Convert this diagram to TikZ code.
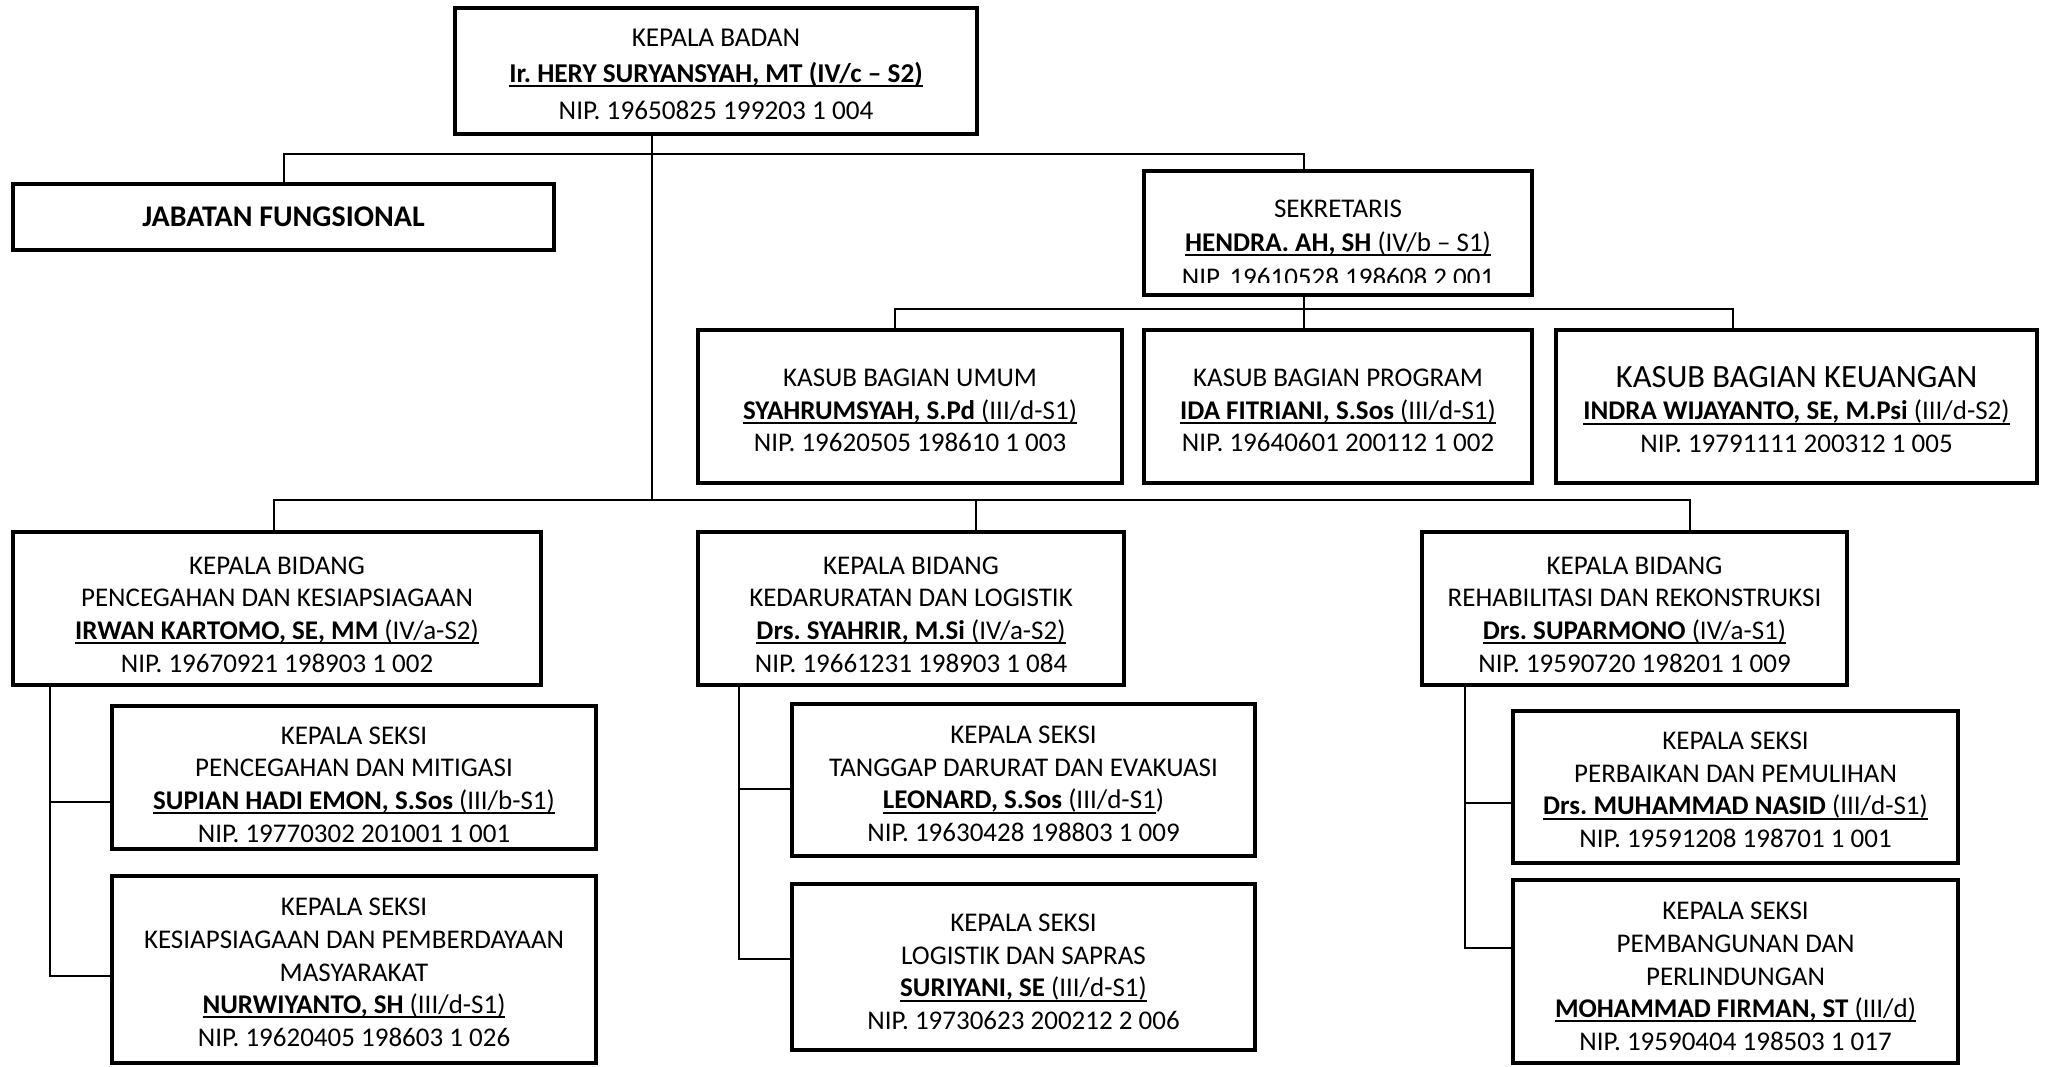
\documentclass[tikz,border=0pt]{standalone}
\usepackage{fontspec}
\setmainfont{Carlito}
\usetikzlibrary{calc}
\frenchspacing
\newcommand\ulx[1]{\begingroup\setbox0\hbox{#1}\rlap{\rule[-0.17em]{\wd0}{0.07em}}\box0\endgroup}
\newcommand\fsN{\fontsize{27pt}{32.6pt}\selectfont}
\newcommand\fsT{\fontsize{27.2pt}{36.5pt}\selectfont}
\newcommand\fsS{\fontsize{27pt}{34.5pt}\selectfont}
\newcommand\fsK{\fontsize{32.5pt}{33pt}\selectfont}
\newcommand\fsJ{\fontsize{30pt}{33pt}\selectfont\bfseries}
\begin{document}
\begin{tikzpicture}[x=1pt,y=-1pt,
  box/.style={draw, line width=4.5pt, inner sep=0pt},
  txt/.style={align=center, inner sep=0pt, font=\fsN},
  conn/.style={line width=2pt}]
\useasboundingbox (0,0) rectangle (2045,1067);
\fill[white] (0,0) rectangle (2045,1067);

% ---- boxes ----
\node[box, minimum width=522pt, minimum height=126pt] (top) at (716,71) {};
\node[txt, font=\fsT] (topt) at ($(top.center)+(0,3)$)
  {KEPALA BADAN\\ \ulx{\bfseries Ir. HERY SURYANSYAH, MT (IV/c – S2)}\\ NIP. 19650825 199203 1 004};

\node[box, minimum width=541pt, minimum height=66pt] (jab) at (283.5,217) {};
\node[txt, font=\fsJ] (jabt) at (jab.center) {JABATAN FUNGSIONAL};

\node[box, minimum width=388pt, minimum height=124pt] (sek) at (1338,233) {};
\begin{scope}
\clip (1150,177) rectangle (1526,282.5);
\node[txt, font=\fsS] (sekt) at (1338,243)
  {SEKRETARIS\\ \ulx{\textbf{HENDRA. AH, SH} (IV/b – S1)}\\ NIP. 19610528 198608 2 001};
\end{scope}

\node[box, minimum width=424pt, minimum height=153pt] (umum) at (910,406.5) {};
\node[txt] (umumt) at ($(umum.center)+(0,4)$)
  {KASUB BAGIAN UMUM\\ \ulx{\textbf{SYAHRUMSYAH, S.Pd} (III/d-S1)}\\ NIP. 19620505 198610 1 003};
\node[box, minimum width=388pt, minimum height=153pt] (prog) at (1338,406.5) {};
\node[txt] (progt) at ($(prog.center)+(0,4)$)
  {KASUB BAGIAN PROGRAM\\ \ulx{\textbf{IDA FITRIANI, S.Sos} (III/d-S1)}\\ NIP. 19640601 200112 1 002};
\node[box, minimum width=481pt, minimum height=153pt] (keu) at (1796.5,406.5) {};
\node[txt] (keut) at ($(keu.center)+(0,3)$)
  {{\fsK KASUB BAGIAN KEUANGAN}\\ \ulx{\textbf{INDRA WIJAYANTO, SE, M.Psi} (III/d-S2)}\\ NIP. 19791111 200312 1 005};

\node[box, minimum width=528pt, minimum height=153pt] (b1) at (277,608.5) {};
\node[txt] (b1t) at ($(b1.center)+(0,6)$)
  {KEPALA BIDANG\\ PENCEGAHAN DAN KESIAPSIAGAAN\\ \ulx{\textbf{IRWAN KARTOMO, SE, MM} (IV/a-S2)}\\ NIP. 19670921 198903 1 002};
\node[box, minimum width=426pt, minimum height=153pt] (b2) at (911,608.5) {};
\node[txt] (b2t) at ($(b2.center)+(0,6)$)
  {KEPALA BIDANG\\ KEDARURATAN DAN LOGISTIK\\ \ulx{\textbf{Drs. SYAHRIR, M.Si} (IV/a-S2)}\\ NIP. 19661231 198903 1 084};
\node[box, minimum width=425pt, minimum height=153pt] (b3) at (1634.5,608.5) {};
\node[txt] (b3t) at ($(b3.center)+(0,6)$)
  {KEPALA BIDANG\\ REHABILITASI DAN REKONSTRUKSI\\ \ulx{\textbf{Drs. SUPARMONO} (IV/a-S1)}\\ NIP. 19590720 198201 1 009};

\node[box, minimum width=484pt, minimum height=143pt] (s1a) at (354,777.5) {};
\node[txt] (s1at) at ($(s1a.center)+(0,7)$)
  {KEPALA SEKSI\\ PENCEGAHAN DAN MITIGASI\\ \ulx{\textbf{SUPIAN HADI EMON, S.Sos} (III/b-S1)}\\ NIP. 19770302 201001 1 001};
\node[box, minimum width=484pt, minimum height=187pt] (s1b) at (354,969.5) {};
\node[txt] (s1bt) at ($(s1b.center)+(0,3)$)
  {KEPALA SEKSI\\ KESIAPSIAGAAN DAN PEMBERDAYAAN\\ MASYARAKAT\\ \ulx{\textbf{NURWIYANTO, SH} (III/d-S1)}\\ NIP. 19620405 198603 1 026};
\node[box, minimum width=463pt, minimum height=152pt] (s2a) at (1023.5,780) {};
\node[txt] (s2at) at ($(s2a.center)+(0,4)$)
  {KEPALA SEKSI\\ TANGGAP DARURAT DAN EVAKUASI\\ \ulx{\textbf{LEONARD, S.Sos} (III/d-S1})\\ NIP. 19630428 198803 1 009};
\node[box, minimum width=463pt, minimum height=166pt] (s2b) at (1023.5,967) {};
\node[txt] (s2bt) at ($(s2b.center)+(0,5)$)
  {KEPALA SEKSI\\ LOGISTIK DAN SAPRAS\\ \ulx{\textbf{SURIYANI, SE} (III/d-S1)}\\ NIP. 19730623 200212 2 006};
\node[box, minimum width=445pt, minimum height=152pt] (s3a) at (1735.5,787) {};
\node[txt] (s3at) at ($(s3a.center)+(0,3)$)
  {KEPALA SEKSI\\ PERBAIKAN DAN PEMULIHAN\\ \ulx{\textbf{Drs. MUHAMMAD NASID} (III/d-S1)}\\ NIP. 19591208 198701 1 001};
\node[box, minimum width=445pt, minimum height=183pt] (s3b) at (1735.5,971.5) {};
\node[txt] (s3bt) at ($(s3b.center)+(0,5)$)
  {KEPALA SEKSI\\ PEMBANGUNAN DAN\\ PERLINDUNGAN\\ \ulx{\textbf{MOHAMMAD FIRMAN, ST} (III/d)}\\ NIP. 19590404 198503 1 017};

% ---- junctions ----
\coordinate (tj) at (652,154);
\coordinate (sj) at (1304,154);
\coordinate (kj) at (1304,309);
\coordinate (ku) at (895,309);
\coordinate (kk) at (1733,309);
\coordinate (bb1) at (274,500);
\coordinate (bbm) at (652,500);
\coordinate (bb2) at (976,500);
\coordinate (bb3) at (1690,500);
\coordinate (c1a) at (50,802);
\coordinate (c1b) at (50,976);
\coordinate (c2a) at (739,789);
\coordinate (c2b) at (739,959);
\coordinate (c3a) at (1465,803);
\coordinate (c3b) at (1465,948);

% ---- connectors ----
\draw[conn] (top.south -| tj) -- (bbm);
\draw[conn] (jab.north) |- (sj) -- (sj |- sek.north);
\draw[conn] (sek.south -| kj) -- (kj);
\draw[conn] (ku |- umum.north) -- (ku) -- (kk) -- (kk |- keu.north);
\draw[conn] (kj) -- (kj |- prog.north);
\draw[conn] (bb1 |- b1.north) -- (bb1) -- (bb3) -- (bb3 |- b3.north);
\draw[conn] (bb2) -- (bb2 |- b2.north);
\draw[conn] (b1.south -| c1a) -- (c1b) -- (c1b -| s1b.west);
\draw[conn] (c1a) -- (c1a -| s1a.west);
\draw[conn] (b2.south -| c2a) -- (c2b) -- (c2b -| s2b.west);
\draw[conn] (c2a) -- (c2a -| s2a.west);
\draw[conn] (b3.south -| c3a) -- (c3b) -- (c3b -| s3b.west);
\draw[conn] (c3a) -- (c3a -| s3a.west);
\end{tikzpicture}
\end{document}
